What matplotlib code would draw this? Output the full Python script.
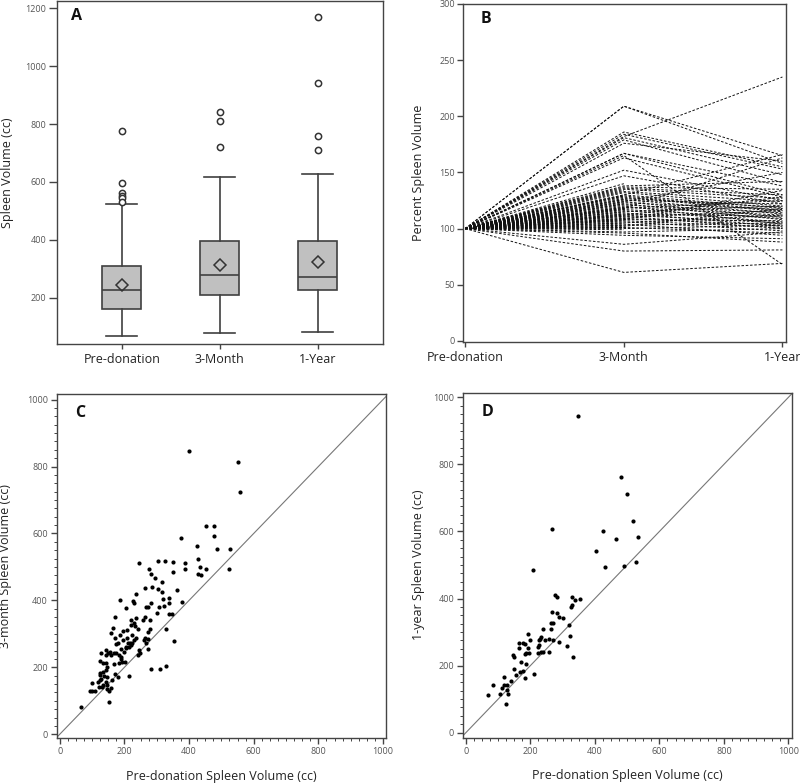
import matplotlib
matplotlib.use('Agg')
import matplotlib.pyplot as plt
from matplotlib.ticker import MultipleLocator

plt.rcParams['font.family'] = ['Open Sans', 'DejaVu Sans']

# ---------------- Panel A data ----------------
groups = ['Pre-donation', '3-Month', '1-Year']
box_q1 = [160, 210, 225]
box_median = [225, 280, 272]
box_q3 = [308, 395, 397]
box_whislo = [68, 78, 83]
box_whishi = [525, 618, 628]
box_mean = [243, 313, 322]
box_outliers = [[775, 597, 560, 553, 545, 530],
                [840, 810, 720],
                [1170, 943, 760, 710]]

# ---------------- Panel B data ----------------
pct_3m = [209, 209, 182, 186, 184, 181, 179, 176, 167, 167, 165, 163, 152, 147,
          138, 137, 136, 135, 133, 132, 130, 129, 128, 127, 126, 125, 124, 123,
          122, 121, 120, 119, 118, 117, 116, 115, 114, 113, 112, 111, 110, 109,
          108, 107, 106, 105, 104, 103, 102, 101, 100, 97, 94, 96, 86, 80, 61,
          130, 124, 112, 108, 118]
pct_1y = [165, 158, 235, 155, 153, 148, 141, 160, 138, 130, 68, 128, 125, 122,
          142, 135, 130, 127, 124, 120, 118, 116, 115, 119, 113, 122, 110, 117,
          108, 114, 104, 112, 163, 109, 106, 120, 102, 111, 105, 100, 116, 103,
          107, 101, 98, 112, 94, 105, 118, 96, 103, 100, 91, 88, 97, 81, 69,
          166, 150, 128, 134, 125]
pct_3m_only = [140, 134, 129, 126, 122, 119, 117, 115, 113, 111, 109, 107,
               105, 103, 101, 99]
time_labels = ['Pre-donation', '3-Month', '1-Year']

# ---------------- Panel C data ----------------
pre_c = [400, 551, 559, 454, 476, 476, 487, 527, 524, 374,
         425, 429, 433, 437, 429, 451, 389, 389, 349, 351,
         326, 305, 377, 363, 353, 330, 311, 330, 338, 346,
         337, 337, 320, 322, 315, 315, 295, 287, 303, 277,
         283, 264, 307, 301, 283, 274, 268, 278, 264, 258,
         278, 274, 264, 260, 272, 268, 274, 283, 245, 235,
         227, 229, 188, 206, 237, 222, 230, 222, 233, 241,
         225, 237, 230, 245, 241, 249, 170, 165, 160, 185,
         196, 209, 196, 209, 210, 204, 214, 218, 222, 225,
         171, 173, 181, 191, 198, 206, 167, 160, 175, 184,
         190, 194, 184, 190, 202, 169, 171, 179, 214, 161,
         144, 142, 150, 155, 127, 125, 134, 144, 146, 142,
         134, 125, 124, 128, 136, 146, 142, 134, 124, 118,
         120, 130, 146, 151, 146, 158, 151, 99, 93, 101,
         109, 67]
m3_c = [846, 814, 724, 622, 622, 593, 554, 554, 495, 586,
        563, 524, 499, 475, 479, 493, 511, 495, 515, 485,
        519, 517, 395, 430, 280, 204, 196, 315, 359, 359,
        408, 391, 403, 383, 425, 454, 467, 441, 435, 495,
        479, 436, 381, 363, 391, 379, 381, 341, 351, 341,
        316, 305, 287, 282, 284, 272, 256, 194, 513, 419,
        398, 391, 401, 376, 348, 341, 333, 328, 325, 316,
        297, 287, 282, 252, 237, 242, 349, 318, 303, 297,
        308, 311, 282, 287, 273, 260, 261, 273, 266, 272,
        287, 270, 272, 256, 246, 257, 244, 236, 242, 236,
        232, 217, 214, 226, 217, 210, 180, 172, 174, 162,
        252, 236, 242, 247, 242, 220, 212, 214, 202, 192,
        186, 182, 176, 166, 174, 172, 156, 147, 162, 156,
        142, 140, 136, 130, 146, 137, 95, 152, 129, 129,
        129, 81]

# ---------------- Panel D data ----------------
pre_d = [349, 480, 499, 517, 534, 529, 490, 466, 426, 432,
         403, 266, 209, 276, 283, 330, 337, 354, 329, 325,
         281, 267, 264, 271, 290, 302, 321, 323, 315, 331,
         264, 259, 271, 259, 240, 244, 234, 230, 226, 228,
         224, 234, 240, 224, 192, 198, 193, 186, 196, 178,
         182, 164, 164, 145, 149, 182, 172, 186, 178, 168,
         182, 150, 155, 139, 118, 112, 118, 126, 126, 132,
         105, 124, 85, 68, 211, 288]
y1_d = [944, 763, 713, 630, 583, 509, 498, 579, 600, 495,
        541, 606, 485, 411, 404, 404, 396, 398, 381, 374,
        358, 361, 328, 328, 344, 342, 321, 288, 257, 227,
        308, 278, 275, 242, 309, 276, 286, 278, 275, 261,
        256, 240, 242, 239, 294, 276, 251, 237, 239, 266,
        264, 268, 251, 232, 226, 235, 210, 205, 185, 181,
        163, 191, 172, 155, 167, 132, 142, 142, 127, 114,
        114, 84, 143, 112, 174, 270]

SPINE = '#444444'
TICKC = '#555555'

fig = plt.figure(figsize=(8, 7.83), dpi=100)

def style_spines(ax):
    for s in ax.spines.values():
        s.set_color(SPINE)
        s.set_linewidth(1.0)

# ---------------- Panel A ----------------
axA = fig.add_axes([0.071, 0.5607, 0.4075, 0.438])
stats = []
for i, g in enumerate(groups):
    stats.append(dict(q1=box_q1[i], med=box_median[i], q3=box_q3[i],
                      whislo=box_whislo[i], whishi=box_whishi[i],
                      mean=box_mean[i], fliers=box_outliers[i], label=g))
lc = '#404040'
axA.bxp(stats, positions=[1, 2, 3], widths=0.4, capwidths=0.32,
        showmeans=True, patch_artist=True,
        boxprops=dict(facecolor='#c0c0c0', edgecolor=lc, linewidth=1.2),
        medianprops=dict(color=lc, linewidth=1.2),
        whiskerprops=dict(color=lc, linewidth=1.2),
        capprops=dict(color=lc, linewidth=1.2),
        meanprops=dict(marker='D', markerfacecolor='none',
                       markeredgecolor='#333333', markersize=6,
                       markeredgewidth=1.1),
        flierprops=dict(marker='o', markerfacecolor='white',
                        markeredgecolor='#333333', markersize=4.5,
                        markeredgewidth=1.1))
axA.set_xlim(0.337, 3.663)
axA.set_ylim(40, 1225)
axA.set_yticks([200, 400, 600, 800, 1000, 1200])
axA.tick_params(axis='y', direction='out', length=5.5, width=1, color=SPINE,
                labelsize=6.5, labelcolor=TICKC, pad=2)
axA.tick_params(axis='x', direction='out', length=3.5, width=1, color=SPINE,
                labelsize=9, labelcolor='#222222', pad=3)
axA.set_ylabel('Spleen Volume (cc)', fontsize=9, color='#222222')
axA.yaxis.set_label_coords(-0.132, 0.5)
style_spines(axA)
axA.text(0.045, 0.955, 'A', transform=axA.transAxes, fontsize=11.5,
         fontweight='bold', va='center', ha='left', color='#111111')

# ---------------- Panel B ----------------
axB = fig.add_axes([0.579, 0.5632, 0.404, 0.4317])
dash = (0, (2.6, 1.8))
for a, b in zip(pct_3m, pct_1y):
    axB.plot([0, 1, 2], [100, a, b], color='#111111', lw=0.7, linestyle=dash)
for a in pct_3m_only:
    axB.plot([0, 1], [100, a], color='#111111', lw=0.7, linestyle=dash)
axB.set_xlim(-0.013, 2.025)
axB.set_ylim(-1, 300)
axB.set_xticks([0, 1, 2])
axB.set_xticklabels(time_labels)
axB.set_yticks([0, 50, 100, 150, 200, 250, 300])
axB.tick_params(axis='y', direction='out', length=4, width=1, color=SPINE,
                labelsize=6.5, labelcolor=TICKC, pad=2)
axB.tick_params(axis='x', direction='out', length=3.5, width=1, color=SPINE,
                labelsize=9, labelcolor='#222222', pad=3)
axB.set_ylabel('Percent Spleen Volume', fontsize=9, color='#222222')
axB.yaxis.set_label_coords(-0.118, 0.5)
style_spines(axB)
axB.text(0.055, 0.955, 'B', transform=axB.transAxes, fontsize=11.5,
         fontweight='bold', va='center', ha='left', color='#111111')

# ---------------- Panels C and D ----------------
def scatter_panel(rect, xs, ys, ylabel, letter, xlim, ylim, ylab_x, xlab_y):
    ax = fig.add_axes(rect)
    ax.plot([-100, 1100], [-100, 1100], color='#777777', lw=0.8, zorder=1)
    ax.scatter(xs, ys, s=9, color='black', zorder=2, linewidths=0)
    ax.set_xlim(*xlim)
    ax.set_ylim(*ylim)
    ax.set_xticks([0, 200, 400, 600, 800, 1000])
    ax.set_yticks([0, 200, 400, 600, 800, 1000])
    ax.xaxis.set_minor_locator(MultipleLocator(25))
    ax.yaxis.set_minor_locator(MultipleLocator(25))
    ax.tick_params(which='major', direction='out', length=4, width=1,
                   color=SPINE, labelsize=6.5, labelcolor=TICKC, pad=2.5)
    ax.tick_params(which='minor', direction='out', length=2, width=0.7,
                   color=SPINE)
    ax.set_xlabel('Pre-donation Spleen Volume (cc)', fontsize=9, color='#222222')
    ax.set_ylabel(ylabel, fontsize=9, color='#222222')
    ax.yaxis.set_label_coords(ylab_x, 0.5)
    ax.xaxis.set_label_coords(0.5, xlab_y)
    style_spines(ax)
    ax.text(0.055, 0.945, letter, transform=ax.transAxes, fontsize=11.5,
            fontweight='bold', va='center', ha='left', color='#111111')
    return ax

scatter_panel([0.071, 0.0575, 0.411, 0.439], pre_c, m3_c,
              '3-month Spleen Volume (cc)', 'C', (-9, 1008), (-11, 1016),
              -0.135, -0.093)
scatter_panel([0.579, 0.0579, 0.4105, 0.4406], pre_d, y1_d,
              '1-year Spleen Volume (cc)', 'D', (-8.4, 1010), (-15, 1014),
              -0.117, -0.091)

fig.savefig('out.png', dpi=100)
